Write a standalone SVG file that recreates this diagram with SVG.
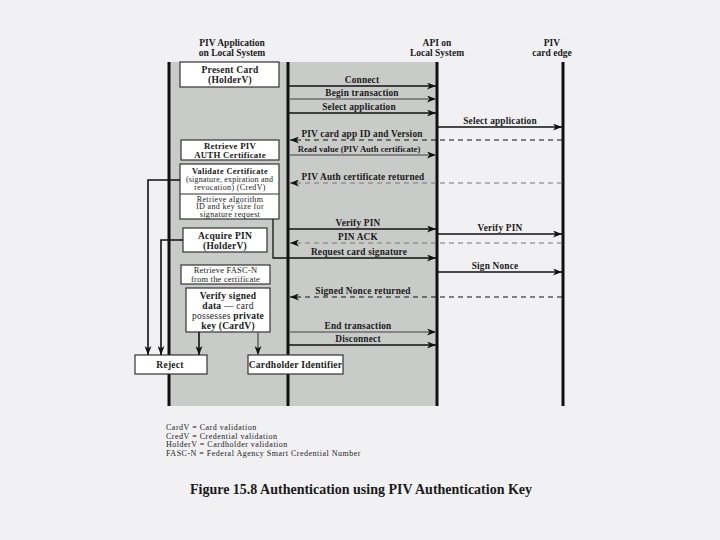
<svg xmlns="http://www.w3.org/2000/svg" width="720" height="540" viewBox="0 0 720 540">
<defs>
<marker id="ah" markerWidth="9" markerHeight="7" refX="9" refY="3.5" orient="auto" markerUnits="userSpaceOnUse">
<path d="M0,0 L9,3.5 L0,7 L2.5,3.5 z" fill="#111"/>
</marker>
<style>
text{font-family:"Liberation Serif","DejaVu Serif",serif;fill:#1a1a1a}
.h{font-size:9.5px;font-weight:bold;text-anchor:middle}
.b{font-size:9.5px;font-weight:bold;text-anchor:middle;letter-spacing:0.25px}
.s{font-size:8px;text-anchor:middle;letter-spacing:0.35px}
.sb{font-size:8.3px;font-weight:bold;text-anchor:middle;letter-spacing:0.35px}
.n{font-size:8.5px;text-anchor:middle;letter-spacing:0.2px}
.l{font-size:9.3px;font-weight:bold;text-anchor:middle;letter-spacing:0.2px}
.lg{font-size:8px;letter-spacing:0.5px}
.cap{font-size:14px;font-weight:bold;text-anchor:middle}
.box{fill:#fff;stroke:#333;stroke-width:1.2}
.life{stroke:#111;stroke-width:3}
.a{stroke:#111;stroke-width:1.3;fill:none;marker-end:url(#ah)}
.ag{stroke:#6e6e6e;stroke-width:1.3;fill:none;marker-end:url(#ah)}
.d{stroke:#111;stroke-width:1.2;fill:none;stroke-dasharray:5,4;marker-end:url(#ah)}
.dg{stroke:#777;stroke-width:1.2;fill:none;stroke-dasharray:5,4;marker-end:url(#ah)}
.c{stroke:#111;stroke-width:1.6;fill:none;marker-end:url(#ah)}
.cg{stroke:#666;stroke-width:1.6;fill:none;marker-end:url(#ah)}
</style>
</defs>
<rect width="720" height="540" fill="#f1f1f3"/>
<rect x="169" y="62" width="268" height="344" fill="#c9cbc9"/>

<g id="headers">
<text class="h" x="232" y="46">PIV Application</text>
<text class="h" x="232" y="56">on Local System</text>
<text class="h" x="437" y="46">API on</text>
<text class="h" x="437" y="56">Local System</text>
<text class="h" x="552" y="46">PIV</text>
<text class="h" x="552" y="56">card edge</text>
</g>

<g id="lifelines">
<line class="life" x1="169" y1="62" x2="169" y2="406"/>
<line class="life" x1="288" y1="62" x2="288" y2="406"/>
<line class="life" x1="437" y1="62" x2="437" y2="406"/>
<line class="life" x1="563" y1="62" x2="563" y2="406"/>
</g>

<g id="present-card">
<rect class="box" x="180" y="62" width="99" height="25"/>
<text class="b" x="230" y="73">Present Card</text>
<text class="b" x="230" y="83">(HolderV)</text>
</g>
<g id="retrieve-piv">
<rect class="box" x="181" y="140" width="98" height="20"/>
<text class="b" x="230" y="148.5" style="font-size:8.8px">Retrieve PIV</text>
<text class="b" x="230" y="157.5" style="font-size:8.8px">AUTH Certificate</text>
</g>
<g id="validate-cert">
<rect class="box" x="180" y="164" width="99" height="55"/>
<line x1="180" y1="194" x2="279" y2="194" stroke="#333" stroke-width="1"/>
<text class="sb" x="230" y="174">Validate Certificate</text>
<text class="s" x="229.5" y="182" style="letter-spacing:0.2px">(signature, expiration and</text>
<text class="s" x="230" y="190">revocation) (CredV)</text>
<text class="s" x="230" y="201.5">Retrieve algorithm</text>
<text class="s" x="230" y="209">ID and key size for</text>
<text class="s" x="230" y="216.5">signature request</text>
</g>
<g id="acquire-pin">
<rect class="box" x="183" y="228" width="84" height="24"/>
<text class="b" x="225" y="239">Acquire PIN</text>
<text class="b" x="225" y="249">(HolderV)</text>
</g>
<g id="retrieve-fascn">
<rect class="box" x="181" y="265" width="89" height="19"/>
<text class="n" x="225.5" y="273">Retrieve FASC-N</text>
<text class="n" x="225.5" y="281.5">from the certificate</text>
</g>
<g id="verify-signed">
<rect class="box" x="186" y="288" width="84" height="44"/>
<text class="b" x="228" y="299">Verify signed</text>
<text class="b" x="228" y="309">data — <tspan font-weight="normal">card</tspan></text>
<text class="b" x="228" y="319"><tspan font-weight="normal">possesses</tspan> private</text>
<text class="b" x="228" y="329">key (CardV)</text>
</g>
<g id="reject">
<rect class="box" x="135" y="355" width="72" height="19"/>
<text class="b" x="170" y="368">Reject</text>
</g>
<g id="cardholder-id">
<rect class="box" x="248" y="355" width="95" height="19"/>
<text class="b" x="295.5" y="368">Cardholder Identifier</text>
</g>

<g id="connectors">
<path class="c" d="M180,180 H148 V355"/>
<path class="c" d="M183,240 H161 V355"/>
<path class="c" d="M199,332 V355"/>
<path class="cg" d="M258,332 V355"/>

<path class="a" d="M289,86 H436"/>
<path class="ag" d="M289,99 H436"/>
<path class="a" d="M289,113 H436"/>
<path class="a" d="M438,127 H562"/>
<path class="d" d="M562,140 H290"/>
<path class="ag" d="M289,155 H436"/>
<path class="dg" d="M562,183 H290"/>
<path class="a" d="M289,229 H436"/>
<path class="a" d="M438,234 H562"/>
<path class="dg" d="M562,243 H290"/>
<path class="a" d="M273,219 V258 H436"/>
<path class="a" d="M438,272 H562"/>
<path class="d" d="M562,297 H290"/>
<path class="ag" d="M289,332 H436"/>
<path class="a" d="M289,345 H436"/>

<text class="l" x="362" y="83">Connect</text>
<text class="l" x="362" y="96">Begin transaction</text>
<text class="l" x="359" y="110">Select application</text>
<text class="l" x="500" y="124">Select application</text>
<text class="l" x="362" y="137">PIV card app ID and Version</text>
<text class="l" x="359" y="152" style="font-size:8.6px;letter-spacing:0px">Read value (PIV Auth certificate)</text>
<text class="l" x="363" y="180">PIV Auth certificate returned</text>
<text class="l" x="358" y="226">Verify PIN</text>
<text class="l" x="500" y="231">Verify PIN</text>
<text class="l" x="358" y="240">PIN ACK</text>
<text class="l" x="359" y="255">Request card signature</text>
<text class="l" x="495" y="269">Sign Nonce</text>
<text class="l" x="363" y="294">Signed Nonce returned</text>
<text class="l" x="358" y="329">End transaction</text>
<text class="l" x="358" y="342">Disconnect</text>
</g>

<g id="legend">
<text class="lg" x="166" y="430">CardV = Card validation</text>
<text class="lg" x="166" y="438.5">CredV = Credential validation</text>
<text class="lg" x="166" y="447">HolderV = Cardholder validation</text>
<text class="lg" x="166" y="455.5">FASC-N = Federal Agency Smart Credential Number</text>
</g>
<text class="cap" x="361" y="494">Figure 15.8  Authentication using PIV Authentication Key</text>
</svg>
